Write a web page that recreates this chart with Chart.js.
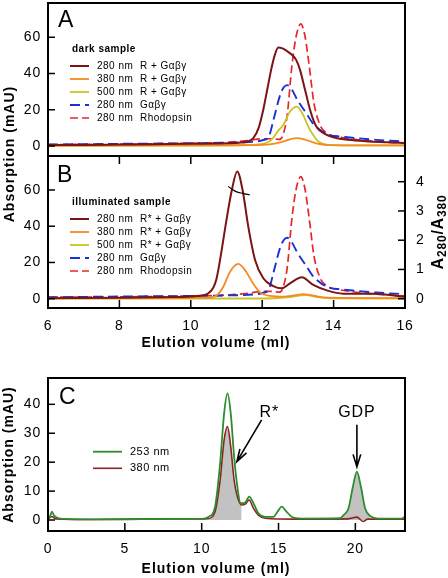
<!DOCTYPE html>
<html>
<head>
<meta charset="utf-8">
<script src="https://cdn.jsdelivr.net/npm/chart.js@4.4.1/dist/chart.umd.min.js"></script>
<style>
  body { margin: 0; background: #fff; }
  #wrap { position: relative; width: 448px; height: 578px; overflow: hidden; }
  canvas { position: absolute; left: 0; }
  #yTitle {
    position: absolute; left: -91px; top: 146px; width: 200px; line-height: 14px;
    text-align: center; font: bold 14px 'Liberation Sans', Arial, sans-serif;
    letter-spacing: 1px; transform: rotate(-90deg);
  }
</style>
</head>
<body>
<div id="wrap">
  <canvas id="chartA" width="448" height="156" style="top:0"></canvas>
  <canvas id="chartB" width="448" height="204" style="top:156px"></canvas>
  <canvas id="chartC" width="448" height="218" style="top:360px"></canvas>
  <div id="yTitle">Absorption (mAU)</div>
</div>
<script>
const FONT = "'Liberation Sans', Arial, sans-serif";
Chart.defaults.font.family = FONT;
Chart.defaults.color = '#000';

// elution profiles as [ml, mAU]
const darkR280 = [[6,0.5],[7,0.6],[8,0.8],[9,1],[10,1.2],[11,1.5],[11.4,1.9],[11.6,2.6],[11.75,4.3],[11.9,10],[12.03,20],[12.15,32],[12.25,42],[12.35,50],[12.45,54.3],[12.55,54],[12.7,52.3],[12.85,50],[12.95,47.5],[13.06,42],[13.2,31],[13.34,20],[13.45,13.5],[13.55,9.8],[13.7,7.3],[13.85,5.8],[14.1,4.3],[14.4,3.4],[15,2.5],[15.5,2],[16,1.6]];
const darkR380 = [[6,0.2],[9,0.3],[11,0.4],[12,0.6],[12.3,1.2],[12.6,2.6],[12.8,3.8],[12.97,4.3],[13.15,3.8],[13.35,2.5],[13.6,1.1],[13.9,0.5],[16,0.3]];
const darkR500 = [[6,0.1],[10,0.2],[11.5,0.5],[12.1,1.6],[12.31,4.5],[12.45,8.5],[12.59,11.6],[12.78,19],[12.97,21.7],[13.15,17],[13.25,12.5],[13.34,8.8],[13.45,5.5],[13.53,3.3],[13.7,1.2],[13.9,0.5],[16,0.3]];
const gabg280 = [[6,0.8],[8,1.2],[10,1.5],[11,1.8],[11.8,2.4],[12.03,3.3],[12.18,5],[12.33,15.5],[12.5,28],[12.6,32.3],[12.7,33.6],[12.83,31.2],[12.98,25.6],[13.24,17.9],[13.4,13],[13.55,10],[13.7,7.8],[13.9,6],[14.2,5.2],[14.55,4.5],[15.2,3.4],[16,2.5]];
const rho280 = [[6,0.8],[8,1],[10,1.5],[11,2],[11.6,3],[12,4],[12.3,4],[12.48,3.6],[12.58,6],[12.7,17],[12.83,43.8],[12.95,60.4],[13.08,67.4],[13.2,60.4],[13.32,43.8],[13.45,23.6],[13.62,11.6],[13.81,7],[14.1,5.2],[14.37,4.3],[15,2.8],[16,1.5]];

const lightR280 = [[6,0.3],[8,0.5],[9.5,0.9],[10,1.2],[10.26,1.6],[10.45,2.5],[10.63,6],[10.72,11],[10.82,21.4],[11,43.5],[11.15,60],[11.3,70.2],[11.45,60],[11.61,39.8],[11.8,21.4],[12.03,11.3],[12.31,7],[12.55,5.7],[12.78,8.5],[13.11,11.8],[13.43,7.6],[13.81,4.6],[14.27,2.8],[15.1,2.8],[16,1.1]];
const lightR380 = [[6,0.2],[10,0.4],[10.6,0.9],[10.75,2.2],[10.91,6.6],[11.1,14.9],[11.33,19.2],[11.55,14.9],[11.75,8.2],[11.94,3.5],[12.22,1.5],[12.6,1.1],[12.9,1.8],[13.15,2.5],[13.4,1.8],[13.8,0.6],[16,0.3]];
const lightR500 = [[6,0],[12,0.1],[12.7,0.8],[13.2,2],[13.6,0.8],[14,0.2],[16,0.1]];
const ratio280380 = [[11.05,3.84],[11.16,3.74],[11.27,3.66],[11.46,3.6],[11.65,3.55]];

const c253 = [[0,0.5],[0.12,1],[0.25,2.9],[0.4,1.5],[0.7,0.6],[1,0.4],[3,0.2],[6,0.3],[8,0.4],[10,0.4],[10.44,1.1],[10.87,4.6],[11.2,19.6],[11.46,36.9],[11.68,43.8],[11.89,36.9],[12.11,21.9],[12.32,11.5],[12.54,5.8],[12.83,6],[13.09,8.1],[13.37,5.8],[13.69,2.3],[14.13,1.1],[14.67,1.1],[14.95,3],[15.21,4.6],[15.5,3],[15.86,1.1],[16.5,0.5],[19,0.6],[19.23,1.7],[19.55,4],[19.84,11.5],[20.1,16.7],[20.36,11.5],[20.64,4],[20.96,1.4],[21.5,0.5],[23,0.5],[23.23,1.2]];
const c380 = [[0,0.3],[0.25,1.2],[0.5,0.4],[3,0.2],[8,0.4],[10.15,0.4],[10.4,0.5],[10.87,2.9],[11.2,13.8],[11.46,27.7],[11.68,32.3],[11.89,25.4],[12.11,13.8],[12.32,8.1],[12.6,5.2],[12.83,5.5],[13.09,6.9],[13.37,4],[13.69,1.7],[14.13,0.6],[16,0.3],[19.5,0.4],[20.1,1],[20.5,-0.5],[20.8,0.3],[23.23,0.3]];

const darkLabels = ['280 nm  R + Gαβγ', '380 nm  R + Gαβγ', '500 nm  R + Gαβγ', '280 nm  Gαβγ', '280 nm  Rhodopsin'];
const lightLabels = ['280 nm  R* + Gαβγ', '380 nm  R* + Gαβγ', '500 nm  R* + Gαβγ', '280 nm  Gαβγ', '280 nm  Rhodopsin'];
const cLabels = ['253 nm', '380 nm'];

const abXTicks = [6, 8, 10, 12, 14, 16];
const abYTicks = [0, 20, 40, 60];
const ratioTicks = [0, 1, 2, 3, 4];
const cXTicks = [0, 5, 10, 15, 20];
const cYTicks = [0, 10, 20, 30, 40];

// annotation anchors in data units (ml, mAU)
const cNotes = [
  { text: 'R*', at: [14.4, 35.7], from: [13.9, 34.6], to: [12.29, 20.2] },
  { text: 'GDP', at: [20.1, 35.7], from: [20.1, 32.9], to: [20.1, 18.4] }
];

const col = {
  brown: '#7b1414', orange: '#f58a1f', yellow: '#c9c324', blue: '#1a30d8', red: '#e8262a',
  green: '#2e8b2e', c380: '#8a2525', shade: '#c2c2c2'
};

const pts = arr => arr.map(([x, y]) => ({ x, y }));

function line(label, data, color, dash, width, axis) {
  return {
    label, data: pts(data), borderColor: color, borderDash: dash || [], borderWidth: width || 1.7,
    pointRadius: 0, fill: false, cubicInterpolationMode: 'monotone', yAxisID: axis || 'y'
  };
}

function noPad(s) {
  s.paddingTop = 0; s.paddingBottom = 0; s.paddingLeft = 0; s.paddingRight = 0;
}

function yScale(min, max, ticks, position, width, padding) {
  return {
    type: 'linear', position, min, max,
    afterBuildTicks: s => { s.ticks = ticks.map(v => ({ value: v })); },
    afterFit: s => { s.width = width; noPad(s); },
    grid: { display: false, drawTicks: false },
    border: { display: false },
    ticks: { font: { size: 14 }, padding }
  };
}

function xScale(min, max, ticks, show, height) {
  return {
    type: 'linear', min, max, display: show,
    afterBuildTicks: s => { s.ticks = ticks.map(v => ({ value: v })); },
    afterFit: s => { s.height = height; noPad(s); },
    grid: { display: false, drawTicks: false },
    border: { display: false },
    ticks: { font: { size: 14 }, padding: 10, maxRotation: 0, autoSkip: false }
  };
}

// box round the plot area plus inward tick marks
function framePlugin(spec) {
  return {
    id: 'frame',
    beforeDraw(chart) { chart.ctx.letterSpacing = '0.8px'; },
    afterDatasetsDraw(chart) {
      const { ctx, chartArea: a } = chart;
      ctx.save();
      ctx.strokeStyle = '#000';
      ctx.lineWidth = 1.5;
      spec.forEach(([id, side]) => {
        const s = chart.scales[id];
        s.ticks.forEach(t => {
          const p = s.getPixelForValue(t.value);
          ctx.beginPath();
          if (side === 'left') { ctx.moveTo(a.left, p); ctx.lineTo(a.left + 7, p); }
          if (side === 'right') { ctx.moveTo(a.right, p); ctx.lineTo(a.right - 7, p); }
          if (side === 'bottom') { ctx.moveTo(p, a.bottom); ctx.lineTo(p, a.bottom - 8); }
          if (side === 'top') { ctx.moveTo(p, a.top); ctx.lineTo(p, a.top + 8); }
          ctx.stroke();
        });
      });
      ctx.lineWidth = 2;
      ctx.strokeRect(a.left, a.top, a.width, a.height);
      ctx.restore();
    }
  };
}

function text(ctx, str, x, y, font, o = {}) {
  ctx.save();
  ctx.font = font;
  ctx.fillStyle = '#000';
  ctx.letterSpacing = o.spacing || '0px';
  ctx.textAlign = o.align || 'left';
  ctx.textBaseline = o.baseline || 'alphabetic';
  ctx.translate(x, y);
  if (o.rotate) ctx.rotate(o.rotate);
  ctx.fillText(str, 0, 0);
  ctx.restore();
}

function drawLegend(chart, heading, x0, y0, step, len, font) {
  const ctx = chart.ctx;
  const items = chart.data.datasets.filter(d => d.label);
  if (heading) text(ctx, heading, x0 + 2, y0 - 17, 'bold 10px ' + FONT, { baseline: 'middle', spacing: '0.5px' });
  items.forEach((d, i) => {
    const y = y0 + i * step;
    ctx.save();
    ctx.strokeStyle = d.borderColor;
    ctx.lineWidth = d.borderWidth;
    ctx.setLineDash(d.borderDash);
    ctx.beginPath();
    ctx.moveTo(x0, y);
    ctx.lineTo(x0 + len, y);
    ctx.stroke();
    ctx.restore();
    text(ctx, d.label, x0 + len + 8, y, font, { baseline: 'middle', spacing: '0.5px' });
  });
}

function arrow(ctx, x1, y1, x2, y2) {
  const ang = Math.atan2(y2 - y1, x2 - x1), h = 13, w = 0.3;
  ctx.save();
  ctx.strokeStyle = '#000';
  ctx.lineWidth = 1.6;
  ctx.beginPath();
  ctx.moveTo(x1, y1);
  ctx.lineTo(x2, y2);
  ctx.moveTo(x2 - h * Math.cos(ang - w), y2 - h * Math.sin(ang - w));
  ctx.lineTo(x2, y2);
  ctx.lineTo(x2 - h * Math.cos(ang + w), y2 - h * Math.sin(ang + w));
  ctx.stroke();
  ctx.restore();
}

function ratioTitle(ctx, cx, cy) {
  const parts = [['A', 16, 0], ['280', 12, 3], ['/', 16, 0], ['A', 16, 0], ['380', 12, 3]];
  ctx.save();
  ctx.translate(cx, cy);
  ctx.rotate(-Math.PI / 2);
  ctx.letterSpacing = '0.8px';
  ctx.fillStyle = '#000';
  ctx.textBaseline = 'alphabetic';
  let total = 0;
  parts.forEach(([s, size]) => { ctx.font = `bold ${size}px ${FONT}`; total += ctx.measureText(s).width; });
  let x = -total / 2;
  parts.forEach(([s, size, dy]) => {
    ctx.font = `bold ${size}px ${FONT}`;
    ctx.fillText(s, x, dy);
    x += ctx.measureText(s).width;
  });
  ctx.restore();
}

const base = {
  responsive: false, animation: false, devicePixelRatio: 1,
  plugins: { legend: { display: false }, tooltip: { enabled: false } }
};

// panel A: dark sample
new Chart(document.getElementById('chartA'), {
  type: 'line',
  data: { datasets: [
    line(darkLabels[0], darkR280, col.brown, [], 2),
    line(darkLabels[1], darkR380, col.orange, [], 1.8),
    line(darkLabels[2], darkR500, col.yellow, [], 1.8),
    line(darkLabels[3], gabg280, col.blue, [10, 5], 1.9),
    line(darkLabels[4], rho280, col.red, [8, 4], 1.7)
  ] },
  options: {
    ...base,
    layout: { padding: { top: 3, right: 43, left: 0, bottom: 0 } },
    scales: { x: xScale(6, 16, abXTicks, false, 0), y: yScale(-5.52, 78.9, abYTicks, 'left', 48, 7) }
  },
  plugins: [framePlugin([['y', 'left']]), {
    id: 'notesA',
    afterDraw(chart) {
      const t = chart.chartArea.top;
      text(chart.ctx, 'A', 58, t + 23.7, '23px ' + FONT);
      drawLegend(chart, 'dark sample', 70, t + 63, 13, 19, '10px ' + FONT);
    }
  }]
});

// panel B: illuminated sample
new Chart(document.getElementById('chartB'), {
  type: 'line',
  data: { datasets: [
    line('', ratio280380, '#000', [], 1.2, 'y2'),
    line(lightLabels[0], lightR280, col.brown, [], 2),
    line(lightLabels[1], lightR380, col.orange, [], 1.8),
    line(lightLabels[2], lightR500, col.yellow, [], 1.8),
    line(lightLabels[3], gabg280, col.blue, [10, 5], 1.9),
    line(lightLabels[4], rho280, col.red, [8, 4], 1.7)
  ] },
  options: {
    ...base,
    layout: { padding: 0 },
    scales: {
      x: xScale(6, 16, abXTicks, true, 52),
      y: yScale(-5.13, 78.75, abYTicks, 'left', 48, 7),
      y2: yScale(-0.318, 4.879, ratioTicks, 'right', 43, 11)
    }
  },
  plugins: [framePlugin([['y', 'left'], ['y2', 'right'], ['x', 'bottom'], ['x', 'top']]), {
    id: 'notesB',
    afterDraw(chart) {
      const ctx = chart.ctx, a = chart.chartArea;
      text(ctx, 'B', 57, a.top + 25.7, '23px ' + FONT);
      drawLegend(chart, 'illuminated sample', 70, a.top + 63, 13, 19, '10px ' + FONT);
      text(ctx, 'Elution volume (ml)', 216, 191, 'bold 14px ' + FONT, { align: 'center', spacing: '1px' });
      ratioTitle(ctx, 443, (a.top + a.bottom) / 2);
    }
  }]
});

// panel C: GDP release
const shadeR = c380.filter(([x]) => x >= 10.15 && x <= 12.6);
const shadeGdp = c253.filter(([x]) => x >= 19 && x <= 21);
const shade = d => ({
  label: '', data: pts(d), borderColor: 'rgba(0,0,0,0)', borderWidth: 0, backgroundColor: col.shade,
  fill: 'origin', pointRadius: 0, cubicInterpolationMode: 'monotone'
});

new Chart(document.getElementById('chartC'), {
  type: 'line',
  data: { datasets: [
    line(cLabels[0], c253, col.green, [], 1.8),
    line(cLabels[1], c380, col.c380, [], 1.6),
    shade(shadeR),
    shade(shadeGdp)
  ] },
  options: {
    ...base,
    layout: { padding: { top: 18, right: 43, left: 0, bottom: 0 } },
    scales: { x: xScale(0, 23.23, cXTicks, true, 47), y: yScale(-3.8, 49.1, cYTicks, 'left', 48, 7) }
  },
  plugins: [framePlugin([['y', 'left'], ['x', 'bottom']]), {
    id: 'notesC',
    afterDraw(chart) {
      const ctx = chart.ctx, a = chart.chartArea, sx = chart.scales.x, sy = chart.scales.y;
      text(ctx, 'C', 59, a.top + 25.5, '23px ' + FONT);
      drawLegend(chart, '', 93, 91.7, 16.6, 29, '11px ' + FONT);
      cNotes.forEach(n => {
        text(ctx, n.text, sx.getPixelForValue(n.at[0]), sy.getPixelForValue(n.at[1]), '16px ' + FONT, { align: 'center', spacing: '0.8px' });
        arrow(ctx, sx.getPixelForValue(n.from[0]), sy.getPixelForValue(n.from[1]),
          sx.getPixelForValue(n.to[0]), sy.getPixelForValue(n.to[1]));
      });
      text(ctx, 'Elution volume (ml)', 216, 213, 'bold 14px ' + FONT, { align: 'center', spacing: '1px' });
      text(ctx, 'Absorption (mAU)', 9, (a.top + a.bottom) / 2, 'bold 14px ' + FONT,
        { align: 'center', baseline: 'middle', spacing: '1px', rotate: -Math.PI / 2 });
    }
  }]
});
</script>
</body>
</html>
